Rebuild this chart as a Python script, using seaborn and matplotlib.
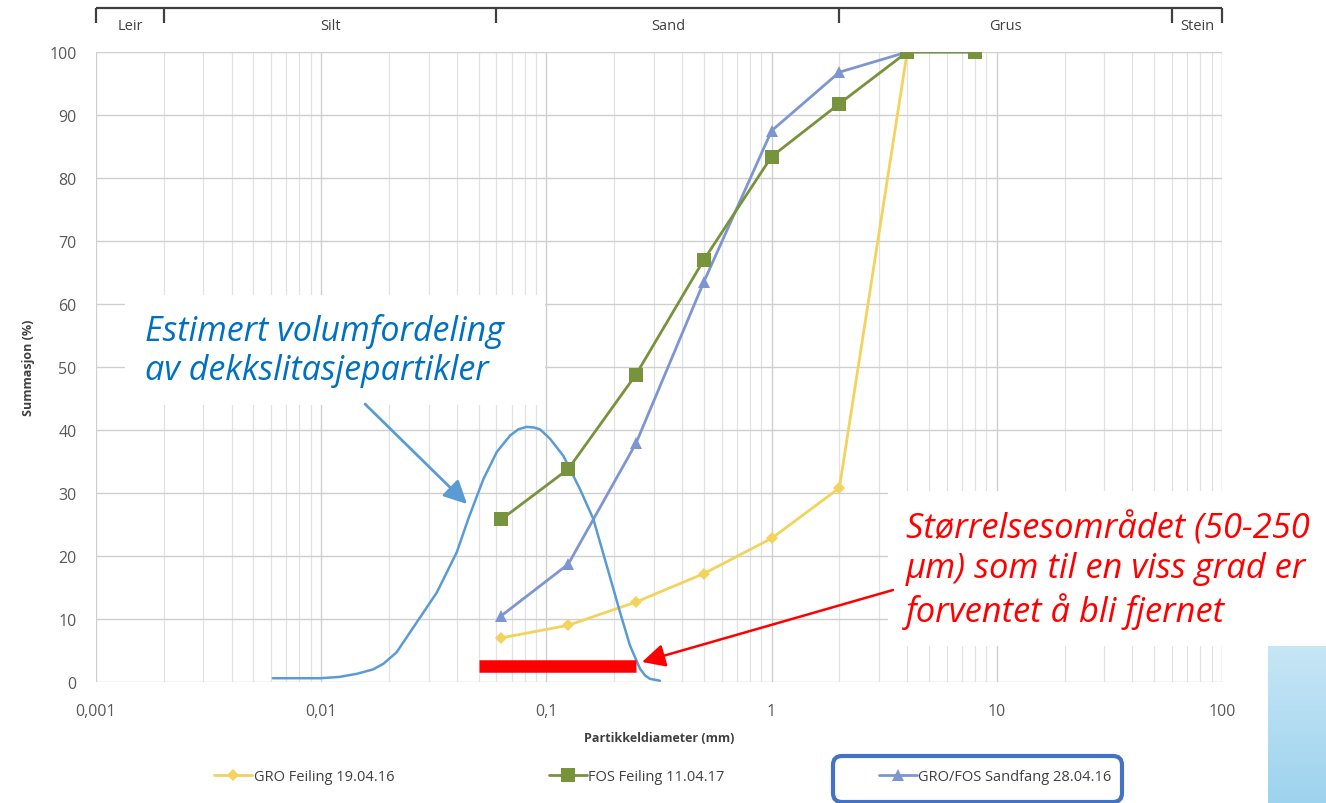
import numpy as np
import pandas as pd
import matplotlib.pyplot as plt
import matplotlib.transforms as mtransforms
import seaborn as sns
from matplotlib.patches import Rectangle, FancyBboxPatch, FancyArrowPatch
from matplotlib.ticker import LogLocator, NullFormatter

# sieve sizes (mm) and cumulative passing (%)
sieve_mm = [0.063, 0.125, 0.25, 0.5, 1, 2, 4, 8]
gro_feiling = [7.0, 9.0, 12.7, 17.2, 22.8, 30.8, 100.0, np.nan]
fos_feiling = [25.8, 33.8, 48.8, 67.0, 83.4, 91.8, 100.0, 100.0]
sandfang = [10.5, 18.7, 37.9, 63.5, 87.5, 96.8, 100.0, 100.0]
series_names = ['GRO Feiling 19.04.16', 'FOS Feiling 11.04.17', 'GRO/FOS Sandfang 28.04.16']

# estimated volume distribution of pavement wear particles
est_mm = [0.0061, 0.0080, 0.0099, 0.0120, 0.0144, 0.0170, 0.0189, 0.0216, 0.0266,
          0.0326, 0.0400, 0.0450, 0.0525, 0.0602, 0.0689, 0.0750, 0.0817, 0.0880,
          0.0937, 0.1038, 0.1189, 0.1410, 0.1615, 0.1852, 0.2122, 0.2350, 0.2604,
          0.2750, 0.2884, 0.3194]
est_pct = [0.6, 0.6, 0.6, 0.8, 1.3, 2.0, 2.9, 4.7, 9.5, 14.2, 20.6, 25.9, 32.2, 36.5,
           39.1, 40.1, 40.5, 40.4, 40.1, 38.6, 35.9, 30.6, 25.9, 18.5, 11.1, 5.8, 2.1,
           1.0, 0.5, 0.2]

# size range expected to be removed
removal_mm = [0.05, 0.25]
removal_pct = [2.5, 2.5]

# soil classes along the top
soil_edges = [0.001, 0.002, 0.06, 2, 60, 100]
soil_names = ['Leir', 'Silt', 'Sand', 'Grus', 'Stein']

x_ticks = [0.001, 0.01, 0.1, 1, 10, 100]
x_ticklabels = ['0,001', '0,01', '0,1', '1', '10', '100']

sns.set_theme(style='whitegrid')
plt.rcParams['font.family'] = ['Open Sans', 'DejaVu Sans']

W, H = 1326, 804
fig = plt.figure(figsize=(W / 100, H / 100), dpi=100, facecolor='white')
# pixel coords, origin top-left
px = mtransforms.Affine2D().scale(1 / W, -1 / H).translate(0, 1) + fig.transFigure

ax = fig.add_axes([96 / W, 1 - 683 / H, (1222 - 96) / W, (683 - 53) / H])
ax.set_xscale('log')

df = pd.DataFrame({'mm': sieve_mm, series_names[0]: gro_feiling,
                   series_names[1]: fos_feiling, series_names[2]: sandfang})
df = df.melt(id_vars='mm', var_name='serie', value_name='pct').dropna()

colors = ['#F2D35C', '#77933C', '#7E96D0']
sns.lineplot(data=df, x='mm', y='pct', hue='serie', style='serie',
             hue_order=series_names, style_order=series_names,
             palette=colors, markers=['D', 's', '^'], dashes=False,
             lw=2, markersize=8, markeredgewidth=0, ax=ax)
for ln in ax.lines:
    if ln.get_marker() == 's':
        ln.set_markersize(10)
        ln.set_zorder(4)
    if ln.get_marker() == 'D':
        ln.set_markersize(6)

handles, labels = ax.get_legend_handles_labels()
ax.get_legend().remove()

ax.plot(est_mm, est_pct, color='#5B9BD5', lw=1.8, zorder=2, solid_joinstyle='round')
ax.plot(removal_mm, removal_pct, color='#FF0000', lw=9, solid_capstyle='butt', zorder=5)

ax.set_xlim(0.001, 100)
ax.set_ylim(0, 100)
ax.set_yticks(range(0, 101, 10))
ax.set_xticks(x_ticks)
ax.set_xticklabels(x_ticklabels)
ax.xaxis.set_minor_locator(LogLocator(base=10, subs=range(2, 10), numticks=20))
ax.xaxis.set_minor_formatter(NullFormatter())
ax.grid(which='major', color='#CFCFCF', lw=1)
ax.grid(which='minor', axis='x', color='#E2E2E2', lw=0.9)
ax.tick_params(axis='both', which='major', length=6, color='#BFBFBF', labelsize=11.5,
               labelcolor='#595959')
ax.tick_params(axis='y', which='major', pad=8)
ax.tick_params(axis='x', which='major', pad=9)
ax.tick_params(axis='x', which='minor', length=0)
for s in ax.spines.values():
    s.set_visible(False)
ax.set_xlabel('Partikkeldiameter (mm)', fontsize=9, fontweight='bold', color='#404040', labelpad=9)
ax.set_ylabel('Summasjon (%)', fontsize=9, fontweight='bold', color='#404040', labelpad=10)

# top band with soil classes
band = fig.add_axes([96 / W, 1 - 35 / H, (1222 - 96) / W, 30 / H])
band.set_xscale('log')
band.set_xlim(0.001, 100)
band.set_ylim(0, 1)
band.axis('off')
band.hlines(0.87, soil_edges[0], soil_edges[-1], color='#404040', lw=1.6, clip_on=False)
band.vlines(soil_edges, 0.37, 0.87, color='#404040', lw=1.6, clip_on=False)
for a, b, name in zip(soil_edges[:-1], soil_edges[1:], soil_names):
    band.text(np.sqrt(a * b), 0.3, name, ha='center', va='center', fontsize=10.5, color='#404040')

fig.legend(handles, labels, loc='center', bbox_to_anchor=(663 / W, 1 - 778 / H), ncol=3,
           frameon=False, fontsize=10.5, handlelength=2.6, columnspacing=10.6, handletextpad=0.1,
           labelcolor='#404040')

# highlight box round the last legend entry
fig.add_artist(FancyBboxPatch((833, 757), 289, 46, boxstyle='round,pad=0,rounding_size=9',
                              transform=px, fill=False, ec='#4472C4', lw=3, zorder=6))

# white boxes behind the annotations
fig.add_artist(Rectangle((125, 296), 420, 110, transform=px, fc='white', ec='none', zorder=3))
fig.add_artist(Rectangle((888, 492), 438, 155, transform=px, fc='white', ec='none', zorder=3))

fig.text(145, 351, 'Estimert volumfordeling\nav dekkslitasjepartikler', transform=px,
         ha='left', va='center', fontsize=24.5, style='italic', color='#0070C0',
         linespacing=1.2, zorder=8)
fig.text(906, 571, 'Størrelsesområdet (50-250\nµm) som til en viss grad er\nforventet å bli fjernet',
         transform=px, ha='left', va='center', fontsize=24.8, style='italic', color='#FF0000',
         linespacing=1.24, zorder=8)

fig.add_artist(FancyArrowPatch((365, 405), (467, 505), transform=px, color='#5B9BD5', lw=2,
                               arrowstyle='-|>,head_length=14,head_width=7', mutation_scale=1,
                               shrinkA=0, shrinkB=0, zorder=7))
fig.add_artist(FancyArrowPatch((893, 591), (642, 663), transform=px, color='#FF0000', lw=1.8,
                               arrowstyle='-|>,head_length=14,head_width=7', mutation_scale=1,
                               shrinkA=0, shrinkB=0, zorder=7))

# pale blue decoration in the corner
deco = fig.add_axes([1268 / W, 0, 58 / W, (804 - 645) / H])
grad = np.linspace(0, 1, 100).reshape(-1, 1)
deco.imshow(grad, aspect='auto', cmap=sns.blend_palette(['#C7E6F6', '#9ED3EE'], as_cmap=True))
deco.axis('off')

fig.savefig('out.png', dpi=100, facecolor='white')
